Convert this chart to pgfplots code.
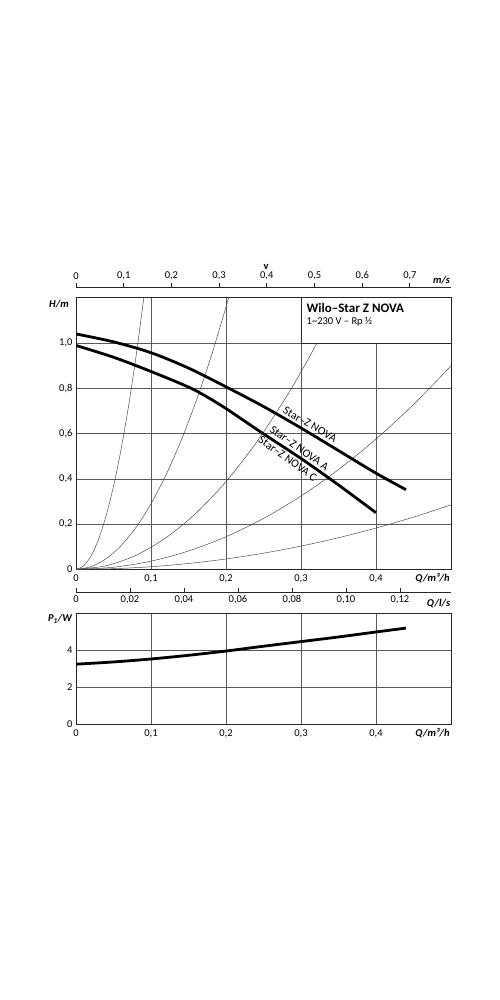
\documentclass[border=0pt]{standalone}
\usepackage{pgfplots}
\pgfplotsset{compat=1.18}
\usepackage{fontspec}
\setmainfont{Carlito}
\begin{document}
\begin{tikzpicture}[x=1pt,y=1pt]
\path[fill=white,use as bounding box] (0,0) rectangle (500,1000);
\pgfplotsset{
  every axis/.append style={font=\fontsize{10.5}{12}\selectfont},
  myframe/.style={axis line style={line width=1pt,black!85}},
}
% ---------- H plot ----------
\begin{axis}[at={(76pt,430.7pt)},anchor=south west,scale only axis,
  width=375pt,height=271.3pt,myframe,
  xmin=0,xmax=0.5,ymin=0,ymax=1.2,
  xtick={0,0.1,0.2,0.3,0.4},xticklabels={0,{0,1},{0,2},{0,3},{0,4}},
  ytick={0,0.2,0.4,0.6,0.8,1.0},yticklabels={0,{0,2},{0,4},{0,6},{0,8},{1,0}},
  grid=major,major grid style={black!65,line width=0.7pt},
  major tick length=0pt,
  xticklabel style={yshift=-1.5pt},
  clip=true]
% system curves
\addplot[black!75,line width=0.45pt,smooth] coordinates {(0,0) (0.01,0.0147) (0.02,0.0588) (0.03,0.1323) (0.04,0.2352) (0.05,0.3675) (0.06,0.5292) (0.07,0.7203) (0.08,0.9408) (0.09,1.1907) (0.092,1.244)};
\addplot[black!75,line width=0.45pt,smooth] coordinates {(0,0) (0.02,0.0116) (0.04,0.0464) (0.06,0.1044) (0.08,0.1856) (0.10,0.29) (0.12,0.4176) (0.14,0.5684) (0.16,0.7424) (0.18,0.9396) (0.20,1.16) (0.206,1.231)};
\addplot[black!75,line width=0.45pt,smooth] coordinates {(0,0) (0.04,0.0155) (0.08,0.0621) (0.12,0.1397) (0.16,0.2483) (0.20,0.388) (0.24,0.5587) (0.28,0.7605) (0.30,0.873) (0.32,0.9933) (0.34,1.1213) (0.36,1.257)};
\addplot[black!75,line width=0.45pt,smooth] coordinates {(0,0) (0.05,0.009) (0.1,0.036) (0.15,0.081) (0.2,0.144) (0.25,0.225) (0.3,0.324) (0.35,0.441) (0.4,0.576) (0.45,0.729) (0.5,0.9)};
\addplot[black!75,line width=0.45pt,smooth] coordinates {(0,0) (0.05,0.00285) (0.1,0.0114) (0.15,0.02565) (0.2,0.0456) (0.25,0.07125) (0.3,0.1026) (0.35,0.13965) (0.4,0.1824) (0.45,0.23085) (0.5,0.285)};
% pump curves
\addplot[black,line width=2.8pt,smooth] coordinates {(0,1.041) (0.05,1.006) (0.1,0.958) (0.15,0.89) (0.2,0.807) (0.25,0.72) (0.3,0.625) (0.35,0.525) (0.4,0.425) (0.44,0.352)};
\addplot[black,line width=2.8pt,smooth] coordinates {(0,0.99) (0.05,0.938) (0.1,0.875) (0.15,0.806) (0.175,0.762) (0.2,0.711) (0.225,0.655) (0.25,0.599) (0.3,0.49) (0.35,0.373) (0.4,0.25)};
% curve labels
\node[rotate=-30,font=\fontsize{11.5}{12}\selectfont,inner sep=0pt] at ([yshift=8.8pt]axis cs:0.312,0.601) {Star–Z NOVA};
\node[rotate=-35.5,font=\fontsize{11.5}{12}\selectfont,inner sep=0pt] at ([yshift=9.3pt]axis cs:0.2977,0.495) {Star–Z NOVA A};
\node[rotate=-35.5,font=\fontsize{11.5}{12}\selectfont,inner sep=0pt] at ([yshift=-9.3pt]axis cs:0.2823,0.530) {Star–Z NOVA C};
% title box
\filldraw[fill=white,draw=black!85,line width=1pt] (axis cs:0.3,1.0) rectangle (axis cs:0.5,1.2);
\node[anchor=base west,inner sep=0pt,font=\fontsize{13}{15}\selectfont\bfseries] at ([shift={(5.5pt,-14.3pt)}]axis cs:0.3,1.2) {Wilo–Star Z NOVA};
\node[anchor=base west,inner sep=0pt,font=\fontsize{10.5}{12}\selectfont] at ([shift={(5.5pt,-26.5pt)}]axis cs:0.3,1.2) {1\textasciitilde230 V – Rp ½};
\end{axis}
% ---------- v axis ----------
\begin{axis}[at={(76pt,712.7pt)},anchor=north west,scale only axis,
  width=375pt,height=1pt,hide y axis,axis x line*=top,
  axis line style={line width=0.9pt,black!85,-},
  xmin=0,xmax=0.7862,ymin=0,ymax=1,
  xtick={0,0.1,0.2,0.3,0.4,0.5,0.6,0.7},
  xticklabels={0,{0,1},{0,2},{0,3},{0,4},{0,5},{0,6},{0,7}},
  tick align=outside,major tick length=4pt,
  tick style={line width=0.8pt,black!85}]
\end{axis}
% ---------- Q l/s axis ----------
\begin{axis}[at={(76pt,408pt)},anchor=south west,scale only axis,
  width=375pt,height=1pt,hide y axis,axis x line*=bottom,
  axis line style={line width=0.9pt,black!85,-},
  xmin=0,xmax=0.138889,ymin=0,ymax=1,
  xtick={0,0.02,0.04,0.06,0.08,0.10,0.12},
  xticklabels={0,{0,02},{0,04},{0,06},{0,08},{0,10},{0,12}},
  tick align=inside,major tick length=3.5pt,
  tick style={line width=0.8pt,black!85}]
\end{axis}
% ---------- P1 plot ----------
\begin{axis}[at={(76pt,275.7pt)},anchor=south west,scale only axis,
  width=375pt,height=111pt,myframe,
  xmin=0,xmax=0.5,ymin=0,ymax=6,
  xtick={0,0.1,0.2,0.3,0.4},xticklabels={0,{0,1},{0,2},{0,3},{0,4}},
  ytick={0,2,4},yticklabels={0,2,4},
  grid=major,major grid style={black!65,line width=0.7pt},
  major tick length=0pt,
  xticklabel style={yshift=-1.5pt}]
\addplot[black,line width=2.8pt,smooth] coordinates {(0,3.25) (0.05,3.37) (0.1,3.53) (0.15,3.73) (0.2,3.96) (0.25,4.22) (0.3,4.47) (0.35,4.72) (0.4,4.99) (0.44,5.2)};
\end{axis}
% ---------- axis names ----------
\node[font=\fontsize{10.5}{12}\selectfont\bfseries] at (266,733) {v};
\node[font=\fontsize{10.5}{12}\selectfont\bfseries\itshape] at (441.5,720) {m/s};
\node[font=\fontsize{10.5}{12}\selectfont\bfseries\itshape] at (59,696) {H/m};
\node[font=\fontsize{10.5}{12}\selectfont\bfseries\itshape] at (432.5,422) {Q/m³/h};
\node[font=\fontsize{10.5}{12}\selectfont\bfseries\itshape] at (438.5,397) {Q/l/s};
\node[font=\fontsize{10.5}{12}\selectfont\bfseries\itshape] at (60,381) {P\textsubscript{1}/W};
\node[font=\fontsize{10.5}{12}\selectfont\bfseries\itshape] at (432.5,267) {Q/m³/h};
\end{tikzpicture}
\end{document}
